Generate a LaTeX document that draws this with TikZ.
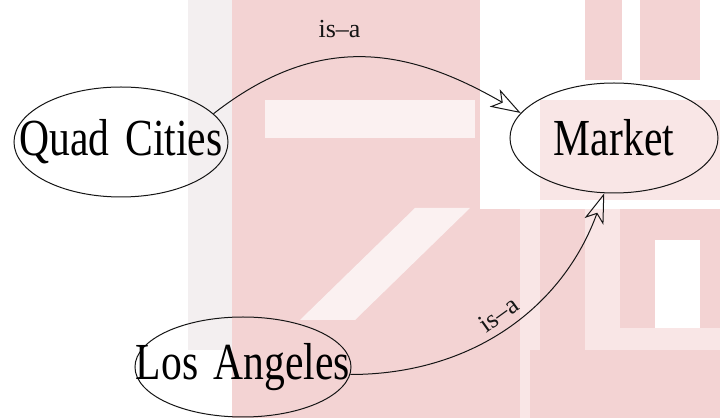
\documentclass[tikz,border=0pt]{standalone}
\usepackage{fontspec}
\setmainfont{Liberation Serif}
\newfontfamily\entityfont[FakeStretch=0.8,WordSpace=1.5]{Liberation Serif}
\usetikzlibrary{arrows.meta,shapes.geometric}
\definecolor{ink}{HTML}{151515}
\definecolor{stamp}{HTML}{F3D3D3}
\definecolor{stamplight}{HTML}{F9E6E6}
\definecolor{stampgray}{HTML}{E8E0E2}
\tikzset{
  >={Stealth[open,length=15pt,width=10pt,inset=4pt]},
  entity/.style={ellipse,draw=ink,line width=.5pt,inner sep=0pt,font=\entityfont\fontsize{26}{30}\selectfont},
  isa/.style={->,draw=ink,line width=.5pt},
  rel/.style={font=\fontsize{13}{15}\selectfont,text=ink,inner sep=1pt},
}
\newcommand{\entname}[1]{\makebox[0pt]{#1}}

\begin{document}
\begin{tikzpicture}[x=.5pt,y=.5pt]
  \useasboundingbox (0,0) rectangle (720,418);
  % faint watermark behind the graph
  \fill[white] (0,0) rectangle (720,418);
  \fill[stampgray,opacity=.5] (188,68) rectangle (232,418);
  \fill[stamp] (232,0) rectangle (480,418);
  \fill[stamplight] (480,0) rectangle (720,209);
  \fill[stamp] (480,0) rectangle (520,209);
  \fill[stamp] (540,0) rectangle (585,209);
  \fill[stamp] (620,90) rectangle (720,209);
  \fill[stamp] (530,0) rectangle (720,68);
  \fill[white] (655,90) rectangle (700,178);
  \fill[stamplight] (540,218) rectangle (720,318);
  \fill[stamp] (585,338) rectangle (700,418);
  \fill[white] (622,338) rectangle (640,418);
  \fill[white,opacity=.7] (265,280) rectangle (475,318);
  \fill[white,opacity=.7] (300,98) -- (355,98) -- (470,210) -- (415,210) -- cycle;

  \node[entity,minimum width=107pt,minimum height=55pt] (quad) at (121,276) {\entname{Quad Cities}};
  \node[entity,minimum width=104pt,minimum height=55pt] (market) at (614,280) {\entname{Market}};
  \node[entity,minimum width=108pt,minimum height=50pt] (angeles) at (243,51) {\entname{Los Angeles}};

  \draw[isa] (quad.17) to[out=38,in=150,looseness=1.1] node[rel,pos=.42,above=9pt] {is--a} (market.165);
  \draw[isa] (angeles.-4) to[out=0,in=250] node[rel,sloped,pos=.5,above=2pt] {is--a} (market.-100);
\end{tikzpicture}
\end{document}
